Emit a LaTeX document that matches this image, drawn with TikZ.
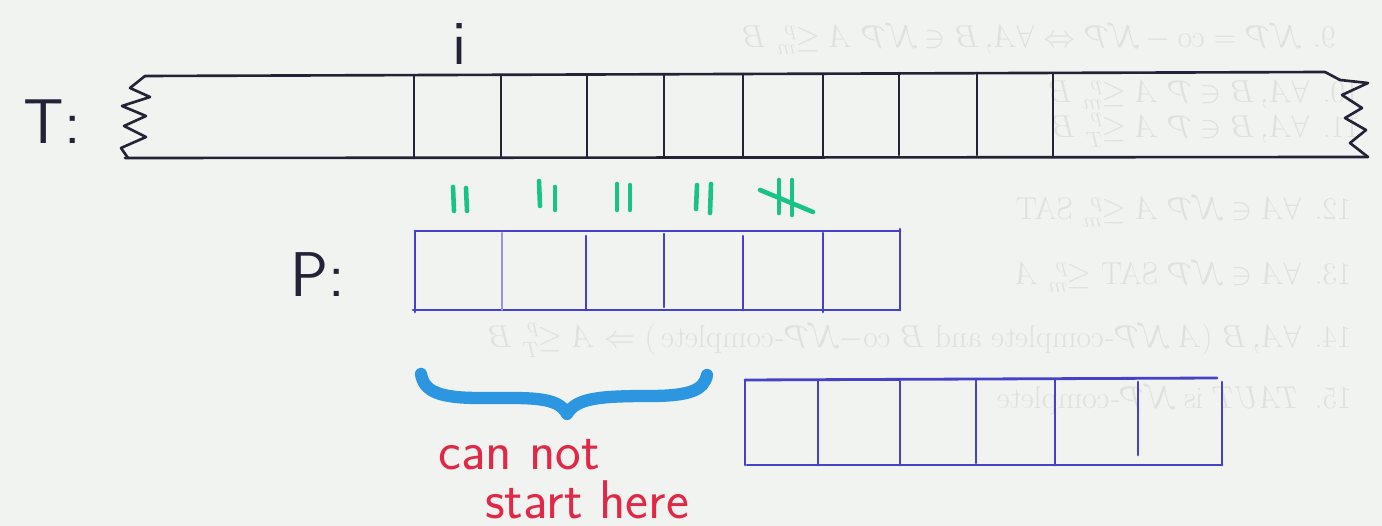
\documentclass[tikz,border=0pt]{standalone}
\usepackage{fix-cm}
\usepackage{amssymb}
\usepackage{fontspec}
\usepackage{tikz}
\definecolor{paper}{RGB}{240,243,240}
\definecolor{ghostgray}{RGB}{222,226,222}
\definecolor{inkblack}{RGB}{35,35,55}
\definecolor{inkblue}{RGB}{70,65,200}
\definecolor{inkgreen}{RGB}{25,195,135}
\definecolor{inkbrace}{RGB}{45,150,225}
\definecolor{inkred}{RGB}{225,40,70}

\begin{document}
\begin{tikzpicture}[x=0.02cm,y=-0.02cm,
  pen/.style={draw=inkblack,line width=1.5pt,line cap=round,line join=round},
  bluepen/.style={draw=inkblue,line width=1.6pt,line cap=round},
  greenpen/.style={draw=inkgreen,line width=2.6pt,line cap=round},
  bracepen/.style={draw=inkbrace,line width=7pt,line cap=round,line join=round},
  ghost/.style={text=ghostgray,anchor=east,inner sep=0pt,font=\fontsize{18}{20}\selectfont},
  hand/.style={text=inkblack,inner sep=0pt,font=\sffamily\fontsize{36}{40}\selectfont},
  redhand/.style={text=inkred,inner sep=0pt,anchor=base west,font=\sffamily\fontsize{31}{34}\selectfont}]
\fill[paper] (0,0) rectangle (1382,526);
\useasboundingbox (0,0) rectangle (1382,526);

% text showing through from the back of the sheet
\node[ghost] (g9) at (1336,40) {\scalebox{-1}[1]{9. $\mathcal{NP}=\mathrm{co}-\mathcal{NP}\Leftrightarrow\forall A,B\in\mathcal{NP}\;A\le^p_m B$}};
\node[ghost] (g10) at (1360,95) {\scalebox{-1}[1]{10. $\forall A,B\in\mathcal{P}\;A\le^p_m B$}};
\node[ghost] (g11) at (1360,130) {\scalebox{-1}[1]{11. $\forall A,B\in\mathcal{P}\;A\le^p_T B$}};
\node[ghost] (g12) at (1352,212) {\scalebox{-1}[1]{12. $\forall A\in\mathcal{NP}\;A\le^p_m$ SAT}};
\node[ghost] (g13) at (1352,277) {\scalebox{-1}[1]{13. $\forall A\in\mathcal{NP}$ SAT $\le^p_m A$}};
\node[ghost] (g14) at (1352,340) {\scalebox{-1}[1]{14. $\forall A,B$ ($A$ $\mathcal{NP}$-complete and $B$ co$-\mathcal{NP}$-complete\,) $\Rightarrow A\le^p_T B$}};
\node[ghost] (g15) at (1352,400) {\scalebox{-1}[1]{15. \textit{TAUT} is $\mathcal{NP}$-complete}};

% the text T
\node[hand] (tlabel) at (52,122) {T:};
\node[hand] (ilabel) at (460,44) {i};
\draw[pen] (145,76) -- (1325,72);
\draw[pen] (125,158) -- (1368,157);
\draw[pen] (145,76) -- (130,88) -- (150,97) -- (122,106) -- (146,116) -- (124,126) -- (146,137) -- (121,148) -- (128,158);
\draw[pen] (1325,72) -- (1340,80) -- (1368,83) -- (1342,95) -- (1362,108) -- (1345,118) -- (1366,130) -- (1350,143) -- (1368,157);
\draw[pen] (414,75) -- (414,158);
\draw[pen] (501,75) -- (501,157);
\draw[pen] (587,75) -- (587,157);
\draw[pen] (664,74) -- (664,157);
\draw[pen] (743,74) -- (743,157);
\draw[pen] (823,74) -- (823,157);
\draw[pen] (899,73) -- (899,155);
\draw[pen] (977,73) -- (977,155);
\draw[pen] (1053,73) -- (1053,157);

% matches (green)
\draw[greenpen] (453,187) -- (454,211);
\draw[greenpen] (466,188) -- (467,211);
\draw[greenpen] (539,181) -- (540,206);
\draw[greenpen] (555,187) -- (555,210);
\draw[greenpen] (617,184) -- (617,210);
\draw[greenpen] (630,185) -- (630,210);
\draw[greenpen] (697,185) -- (696,209);
\draw[greenpen] (711,184) -- (710,213);
\draw[greenpen] (779,180) -- (779,213);
\draw[greenpen] (792,180) -- (792,215);
\draw[greenpen] (760,190) -- (813,212);

% the pattern P
\node[hand] (plabel) at (318,275) {P:};
\draw[bluepen] (415,231) -- (900,231);
\draw[bluepen] (413,310) -- (900,310);
\draw[bluepen] (415,231) -- (415,312);
\draw[bluepen] (900,229) -- (900,310);
\draw[bluepen,draw=inkblue!55] (502,233) -- (502,310);
\draw[bluepen] (586,236) -- (586,310);
\draw[bluepen] (664,234) -- (664,307);
\draw[bluepen] (743,236) -- (743,310);
\draw[bluepen] (823,233) -- (823,312);

% brace and remark
\draw[bracepen] (421,374) .. controls (424,392) and (440,398) .. (480,398) .. controls (530,398) and (558,396) .. (567,414) .. controls (576,398) and (600,396) .. (650,396) .. controls (690,396) and (704,390) .. (707,375);
\node[redhand] (cannot) at (438,470) {can not};
\node[redhand] (starthere) at (485,518) {start here};

% the pattern P, shifted
\draw[bluepen] (745,380) -- (1217,378);
\draw[bluepen] (747,465) -- (1222,465);
\draw[bluepen] (745,380) -- (745,465);
\draw[bluepen] (1222,382) -- (1222,465);
\draw[bluepen] (818,380) -- (818,465);
\draw[bluepen] (900,381) -- (900,465);
\draw[bluepen] (976,380) -- (976,463);
\draw[bluepen] (1055,380) -- (1055,465);
\draw[bluepen] (1138,382) -- (1138,455);
\end{tikzpicture}
\end{document}
